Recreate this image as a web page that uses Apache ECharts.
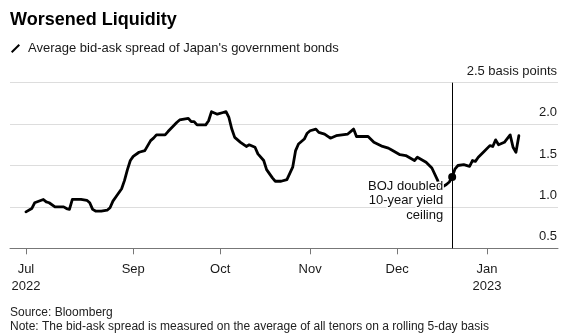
<!DOCTYPE html>
<html>
<head>
<meta charset="utf-8">
<script src="https://cdn.jsdelivr.net/npm/echarts@6/dist/echarts.min.js"></script>
<style>
  html, body { margin: 0; padding: 0; background: #fff; }
  #chart { width: 572px; height: 333px; }
</style>
</head>
<body>
<div id="chart"></div>
<script>
// Average bid-ask spread of JGBs (basis points), rolling 5-day average
const DATES = [
  '2022-07-26','2022-07-28','2022-07-29','2022-08-01','2022-08-02','2022-08-03','2022-08-05',
  '2022-08-08','2022-08-09','2022-08-10','2022-08-11','2022-08-14','2022-08-16','2022-08-17',
  '2022-08-18','2022-08-19','2022-08-21','2022-08-23','2022-08-24','2022-08-25','2022-08-26',
  '2022-08-28','2022-08-29','2022-08-30','2022-08-31','2022-09-01','2022-09-03','2022-09-05',
  '2022-09-07','2022-09-08','2022-09-09','2022-09-12','2022-09-13','2022-09-16','2022-09-17',
  '2022-09-20','2022-09-21','2022-09-22','2022-09-23','2022-09-26','2022-09-27','2022-09-28',
  '2022-09-30','2022-10-02','2022-10-03','2022-10-04','2022-10-05','2022-10-06','2022-10-08',
  '2022-10-10','2022-10-11','2022-10-13','2022-10-14','2022-10-16','2022-10-17','2022-10-19',
  '2022-10-20','2022-10-22','2022-10-24','2022-10-26','2022-10-27','2022-10-28','2022-10-30',
  '2022-10-31','2022-11-01','2022-11-03','2022-11-04','2022-11-06','2022-11-08','2022-11-10',
  '2022-11-14','2022-11-16','2022-11-17','2022-11-21','2022-11-23','2022-11-26','2022-11-28',
  '2022-11-29','2022-12-02','2022-12-04','2022-12-07','2022-12-08','2022-12-11','2022-12-13',
  '2022-12-15','2022-12-16','2022-12-17','2022-12-18','2022-12-19','2022-12-20','2022-12-21',
  '2022-12-22','2022-12-24','2022-12-26','2022-12-27','2022-12-28','2022-12-29','2022-12-31',
  '2023-01-02','2023-01-03','2023-01-04','2023-01-05','2023-01-07','2023-01-09','2023-01-10',
  '2023-01-11','2023-01-12'
];
const SPREAD = [
  0.94, 0.98, 1.05, 1.09, 1.06, 1.05, 1.00,
  1.00, 0.98, 0.97, 1.09, 1.09, 1.08, 1.05,
  0.97, 0.95, 0.95, 0.96, 0.99, 1.07, 1.12,
  1.22, 1.32, 1.45, 1.56, 1.61, 1.66, 1.68,
  1.80, 1.83, 1.87, 1.87, 1.91, 2.02, 2.05,
  2.07, 2.03, 2.03, 1.99, 1.99, 2.04, 2.15,
  2.12, 2.14, 2.15, 2.08, 1.94, 1.84, 1.78,
  1.73, 1.75, 1.72, 1.64, 1.56, 1.45, 1.35,
  1.31, 1.31, 1.33, 1.48, 1.68, 1.76, 1.82,
  1.89, 1.92, 1.94, 1.90, 1.88, 1.83, 1.86,
  1.88, 1.94, 1.85, 1.85, 1.78, 1.73, 1.71,
  1.69, 1.63, 1.62, 1.56, 1.60, 1.54, 1.47,
  1.32, 1.24, 1.25, 1.27, 1.30, 1.36, 1.46,
  1.50, 1.51, 1.49, 1.56, 1.55, 1.60, 1.67,
  1.74, 1.73, 1.81, 1.75, 1.78, 1.87, 1.72,
  1.66, 1.86
];

const TICK_DATES = ['2022-07-26', '2022-09-01', '2022-10-01', '2022-11-01', '2022-12-01', '2023-01-01'];
const TICK_LABELS = ['Jul\n2022', 'Sep', 'Oct', 'Nov', 'Dec', 'Jan\n2023'];
const X_START = '2022-07-20';   // axis window, in whole days
const X_END = '2023-01-25';
const Y_UNIT = 'basis points';

const EVENT_DATE = '2022-12-20';
const EVENT_TEXT = 'BOJ doubled\n10-year yield\nceiling';

const TITLE = 'Worsened Liquidity';
const SERIES_NAME = "Average bid-ask spread of Japan's government bonds";
const FOOTER = 'Source: Bloomberg\nNote: The bid-ask spread is measured on the average of all tenors on a rolling 5-day basis';

// x positions are whole days counted from the start of July 2022
const EPOCH = Date.UTC(2022, 6, 1);
function toDay(s) {
  const [y, m, d] = s.split('-').map(Number);
  return Math.round((Date.UTC(y, m - 1, d) - EPOCH) / 86400000);
}

const tickDays = TICK_DATES.map(toDay);
const eventDay = toDay(EVENT_DATE);
const eventValue = SPREAD[DATES.indexOf(EVENT_DATE)];

const FONT = '"Liberation Sans", Arial, Helvetica, sans-serif';
const chart = echarts.init(document.getElementById('chart'), null, { renderer: 'canvas' });

chart.setOption({
  animation: false,
  textStyle: { fontFamily: FONT },
  title: [
    {
      text: TITLE, left: 10, top: 11, padding: 0,
      textStyle: { fontSize: 18, fontWeight: 'bold', color: '#000', fontFamily: FONT }
    },
    {
      text: FOOTER, left: 10, top: 306, padding: 0,
      textStyle: { fontSize: 12, fontWeight: 'normal', color: '#222', lineHeight: 14, fontFamily: FONT }
    }
  ],
  legend: {
    left: 11, top: 42, padding: 0, itemWidth: 9, itemHeight: 9, selectedMode: false,
    icon: 'path://M0,8.6L7.6,1L9,2.4L1.4,10Z',
    textStyle: { fontSize: 13, color: '#1a1a1a', padding: [0, 0, 0, 3], fontFamily: FONT },
    data: [{ name: SERIES_NAME, itemStyle: { color: '#000' } }]
  },
  grid: { left: 10, right: 14, top: 82.7, bottom: 84.7 },
  xAxis: {
    type: 'value',
    min: toDay(X_START) + 0.5,
    max: toDay(X_END) + 0.5,
    axisLine: { show: true, onZero: false, lineStyle: { color: '#777', width: 1 } },
    axisTick: { show: true, length: 6, lineStyle: { color: '#777' }, customValues: tickDays },
    axisLabel: {
      customValues: tickDays,
      formatter: v => TICK_LABELS[tickDays.indexOf(v)] || '',
      fontSize: 13, color: '#1a1a1a', margin: 12, lineHeight: 17.5, hideOverlap: false,
      showMinLabel: true, showMaxLabel: true,
      fontFamily: FONT
    },
    splitLine: { show: false }
  },
  yAxis: {
    type: 'value', position: 'right', min: 0.5, max: 2.5, interval: 0.5,
    axisLine: { show: false }, axisTick: { show: false },
    splitLine: { lineStyle: { color: '#ddd', width: 1 } },
    axisLabel: {
      inside: true, margin: 1, verticalAlign: 'bottom', padding: [0, 0, 5, 0],
      fontSize: 13, color: '#1a1a1a', fontFamily: FONT,
      formatter: v => (v === 2.5 ? v.toFixed(1) + ' ' + Y_UNIT : v.toFixed(1))
    }
  },
  series: [
    {
      name: SERIES_NAME,
      type: 'line',
      data: DATES.map((d, i) => [toDay(d), SPREAD[i]]),
      symbol: 'none',
      lineStyle: { color: '#000', width: 2.8, join: 'round', cap: 'round' },
      itemStyle: { color: '#000' },
      z: 2,
      markLine: {
        silent: true, symbol: 'none', label: { show: false },
        lineStyle: { color: '#000', width: 1, type: 'solid', opacity: 1 },
        data: [{ xAxis: eventDay }]
      }
    },
    {
      type: 'scatter',
      data: [[eventDay, eventValue]],
      symbolSize: 8,
      itemStyle: { color: '#000', opacity: 1 },
      z: 5,
      silent: true,
      label: {
        show: true, formatter: EVENT_TEXT, position: [-5, 6],
        align: 'right', verticalAlign: 'top',
        fontSize: 13, lineHeight: 14.5, color: '#111', fontFamily: FONT,
        textBorderColor: '#fff', textBorderWidth: 3
      }
    }
  ]
});
</script>
</body>
</html>
